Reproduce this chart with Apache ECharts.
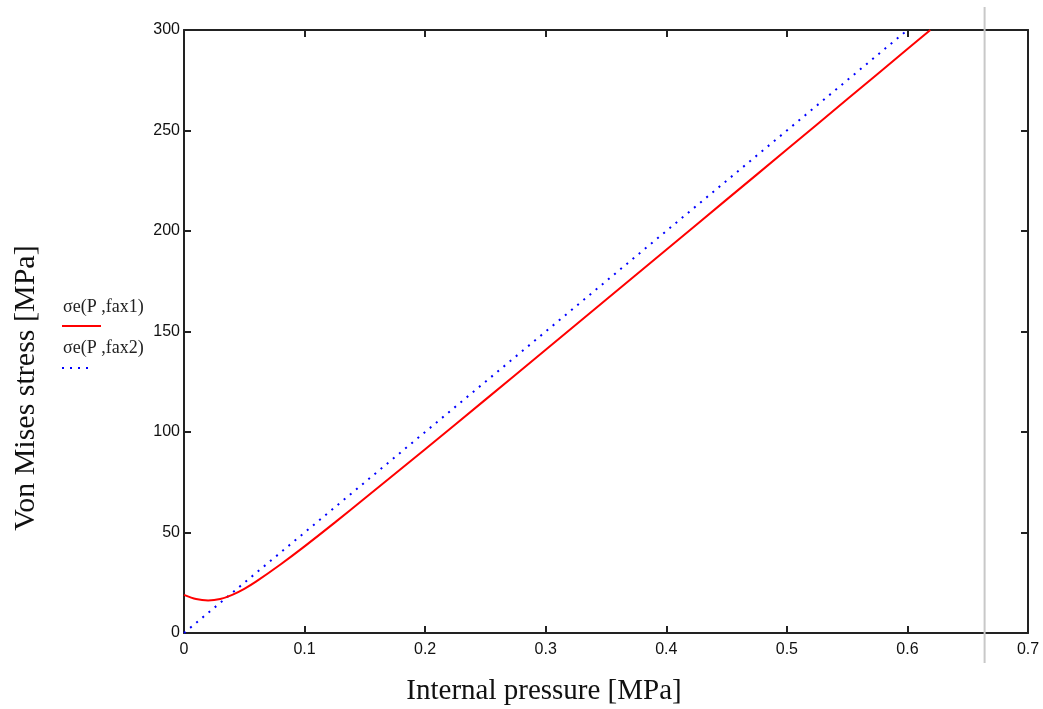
<!DOCTYPE html>
<html>
<head>
<meta charset="utf-8">
<script src="https://cdn.jsdelivr.net/npm/echarts@6/dist/echarts.min.js"></script>
<style>
  html, body { margin: 0; padding: 0; background: #fff; }
  #chart { width: 1043px; height: 709px; }
</style>
</head>
<body>
<div id="chart"></div>
<script>
// pressure samples [MPa] and von Mises stress [MPa]
const pressure1 = [0, 0.01, 0.02, 0.03, 0.04, 0.05, 0.06, 0.08, 0.1, 0.125, 0.15, 0.2, 0.25, 0.3, 0.35, 0.4, 0.45, 0.5, 0.55, 0.6, 0.619];
const stressFax1 = [19.0, 16.9, 16.2, 16.9, 19.0, 22.0, 25.7, 34.1, 43.1, 54.9, 67.0, 91.4, 116.1, 140.9, 165.8, 190.7, 215.6, 240.5, 265.5, 290.5, 300];
const pressure2 = [0, 0.1, 0.2, 0.3, 0.4, 0.5, 0.6];
const stressFax2 = [0, 50, 100, 150, 200, 250, 300];
const xTicks = [0, 0.1, 0.2, 0.3, 0.4, 0.5, 0.6, 0.7];
const yTicks = [0, 50, 100, 150, 200, 250, 300];
const markerX = [0.664];

const chart = echarts.init(document.getElementById('chart'));

const axisColor = '#222';
const labelFont = { fontFamily: 'Liberation Sans', fontSize: 16, color: '#111' };
const serif = 'Liberation Serif';

const baseX = {
  type: 'value', min: xTicks[0], max: xTicks[xTicks.length - 1], interval: 0.1,
  axisLine: { onZero: false, lineStyle: { color: axisColor, width: 2 } },
  axisTick: { inside: true, length: 7, lineStyle: { color: axisColor, width: 2 } },
  splitLine: { show: false }
};
const baseY = {
  type: 'value', min: yTicks[0], max: yTicks[yTicks.length - 1], interval: 50,
  axisLine: { onZero: false, lineStyle: { color: axisColor, width: 2 } },
  axisTick: { inside: true, length: 7, lineStyle: { color: axisColor, width: 2 } },
  splitLine: { show: false }
};

const legendAndNames = [
  { type: 'text', left: 63, top: 298, style: { text: 'σe(P ,fax1)', font: '18px ' + serif, fill: '#222' } },
  { type: 'line', shape: { x1: 62, y1: 326, x2: 101, y2: 326 }, style: { stroke: '#ff0000', lineWidth: 2 } },
  { type: 'text', left: 63, top: 339, style: { text: 'σe(P ,fax2)', font: '18px ' + serif, fill: '#222' } },
  { type: 'line', shape: { x1: 62, y1: 368, x2: 92, y2: 368 }, style: { stroke: '#0000ff', lineWidth: 2, lineDash: [2, 6] } },
  {
    type: 'text', x: 544, y: 691,
    style: { text: 'Internal pressure [MPa]', font: '29px ' + serif, fill: '#111', align: 'center', verticalAlign: 'middle' }
  },
  {
    type: 'text', x: 26, y: 388, rotation: Math.PI / 2,
    style: { text: 'Von Mises stress [MPa]', font: '30px ' + serif, fill: '#111', align: 'center', verticalAlign: 'middle' }
  }
];

chart.setOption({
  animation: false,
  backgroundColor: '#fff',
  grid: { left: 184, top: 30, right: 15, bottom: 76 },
  xAxis: [
    Object.assign({}, baseX, {
      position: 'bottom',
      axisLabel: Object.assign({ margin: 9, formatter: v => String(+v.toFixed(1)) }, labelFont)
    }),
    Object.assign({}, baseX, { position: 'top', axisLabel: { show: false } })
  ],
  yAxis: [
    Object.assign({}, baseY, {
      position: 'left',
      axisLabel: Object.assign({ margin: 4 }, labelFont)
    }),
    Object.assign({}, baseY, { position: 'right', axisLabel: { show: false } })
  ],
  series: [
    {
      name: 'σe(P,fax1)', type: 'line', showSymbol: false, smooth: 0.3,
      data: pressure1.map((p, i) => [p, stressFax1[i]]),
      lineStyle: { color: '#ff0000', width: 2 }, z: 3
    },
    {
      name: 'σe(P,fax2)', type: 'line', showSymbol: false,
      data: pressure2.map((p, i) => [p, stressFax2[i]]),
      lineStyle: { color: '#0000ff', width: 2, type: [2, 6] }, z: 2
    }
  ],
  graphic: legendAndNames
});

// grey cursor line drawn across the plot, placed via the x scale
const cx = chart.convertToPixel({ xAxisIndex: 0 }, markerX[0]);
chart.setOption({
  graphic: legendAndNames.concat([
    { type: 'line', z: 10, shape: { x1: cx, y1: 7, x2: cx, y2: 663 }, style: { stroke: '#c8c8c8', lineWidth: 2 } }
  ])
}, { replaceMerge: ['graphic'] });
</script>
</body>
</html>
